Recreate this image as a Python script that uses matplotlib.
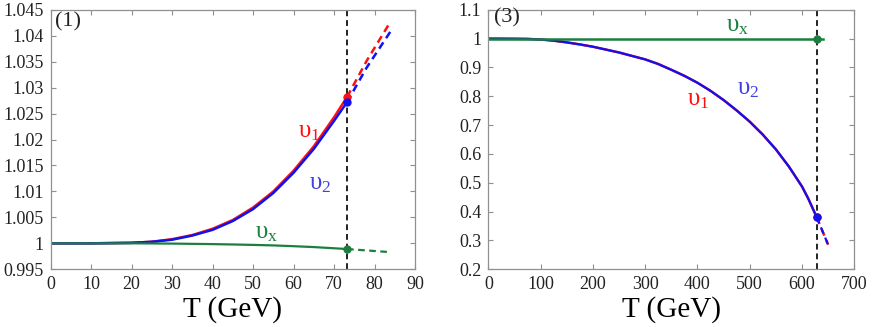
import matplotlib
matplotlib.use("Agg")
import matplotlib.pyplot as plt
import numpy as np

plt.rcParams['font.family'] = ['Liberation Serif', 'DejaVu Serif']
plt.rcParams['mathtext.fontset'] = 'custom'
plt.rcParams['mathtext.rm'] = 'Liberation Serif'
plt.rcParams['mathtext.it'] = 'Liberation Serif'

# Panel (1)
T1 = [0, 10, 20, 25, 30, 35, 40, 45, 50, 55, 60, 65, 70, 73.2]
v1_1 = [1.0, 1.0, 1.0001, 1.0003, 1.0008, 1.0016, 1.0028, 1.0045, 1.0069, 1.0100, 1.0140, 1.0187, 1.0243, 1.0282]
v2_1 = [1.0, 1.0, 1.0001, 1.0003, 1.0007, 1.0015, 1.0026, 1.0043, 1.0066, 1.0097, 1.0136, 1.0182, 1.0236, 1.0272]
vx_1 = [1.0, 1.0, 1.0, 0.99998, 0.99995, 0.9999, 0.99985, 0.99978, 0.9997, 0.9996, 0.99945, 0.99928, 0.99905, 0.9989]
T1d = [73.2, 78, 84]
v1_1d = [1.0282, 1.0351, 1.0428]
T1d2 = [73.2, 78, 84.5]
v2_1d = [1.0272, 1.0338, 1.0415]
T1dx = [73.2, 84]
vx_1d = [0.9989, 0.9983]
Tc1 = 73.2

# Panel (3)
T3 = [0, 50, 75, 100, 125, 150, 175, 200, 225, 250, 275, 300, 325, 350, 375, 400,
      425, 450, 475, 500, 525, 550, 575, 600, 612, 628]
v_3 = [1.0, 0.9995, 0.999, 0.997, 0.993, 0.987, 0.980, 0.972, 0.962, 0.952, 0.940,
       0.928, 0.912, 0.892, 0.871, 0.847, 0.819, 0.787, 0.751, 0.712, 0.667, 0.616,
       0.556, 0.487, 0.445, 0.381]
T3d = [628, 650]
v_3d = [0.381, 0.285]
T3x = [0, 640]
vx_3 = [1.0, 1.0]
Tc3 = 628

red = '#ff1010'
blue = '#1010f0'
green = '#1b7f3e'

fig = plt.figure(figsize=(8.72, 3.27), dpi=100)
ax1 = fig.add_axes([0.058, 0.1765, 0.418, 0.7935])
ax3 = fig.add_axes([0.560, 0.1765, 0.4197, 0.7935])

def style(ax):
    for s in ax.spines.values():
        s.set_color('#909090')
        s.set_linewidth(0.9)
    ax.tick_params(direction='in', top=True, right=True, color='#909090',
                   labelsize=13, length=3.5, pad=5, labelcolor='#222222')
    ax.set_xlabel('T (GeV)', fontsize=21, labelpad=2)

# Left
ax1.plot(T1, v1_1, color=red, lw=1.8)
ax1.plot(T1, v2_1, color=blue, lw=1.8)
ax1.plot(T1, vx_1, color=green, lw=1.6)
ax1.plot(T1d, v1_1d, color=red, lw=1.8, ls=(0, (3, 2)))
ax1.plot(T1d2, v2_1d, color=blue, lw=1.8, ls=(0, (3, 2)))
ax1.plot(T1dx, vx_1d, color=green, lw=1.6, ls=(0, (3, 2)))
ax1.axvline(Tc1, color='#222222', lw=1.4, ls=(0, (3, 2)), zorder=1)
ax1.plot([Tc1], [v1_1[-1]], 'o', color=red, ms=5, zorder=4)
ax1.plot([Tc1], [v2_1[-1]], 'o', color=blue, ms=5, zorder=4)
ax1.plot([Tc1], [vx_1[-1]], 'o', color=green, ms=5, zorder=4)
ax1.set_xlim(0, 90)
ax1.set_ylim(0.995, 1.045)
ax1.set_xticks(np.arange(0, 91, 10))
ax1.set_yticks([0.995, 1.0, 1.005, 1.01, 1.015, 1.02, 1.025, 1.03, 1.035, 1.04, 1.045])
ax1.set_yticklabels(['0.995', '1', '1.005', '1.01', '1.015', '1.02', '1.025', '1.03', '1.035', '1.04', '1.045'])
ax1.text(1.0, 1.0418, '(1)', fontsize=16, color='#222222')
ax1.text(61.2, 1.0205, r'$\mathregular{υ_1}$', color=red, fontsize=18)
ax1.text(63.8, 1.0103, r'$\mathregular{υ_2}$', color='#4040e0', fontsize=18)
ax1.text(50.5, 1.0010, r'$\mathregular{υ_x}$', color=green, fontsize=18)
style(ax1)

# Right
ax3.plot(T3, v_3, color=red, lw=1.8)
ax3.plot(T3, v_3, color=blue, lw=1.6)
ax3.plot(T3d, v_3d, color=red, lw=1.8, ls=(0, (3, 2)))
ax3.plot(T3d, v_3d, color=blue, lw=1.6, ls=(0, (3, 2)))
ax3.plot(T3x, vx_3, color=green, lw=1.8)
ax3.axvline(Tc3, color='#222222', lw=1.4, ls=(0, (3, 2)), zorder=1)
ax3.plot([Tc3], [v_3[-1]], 'o', color=red, ms=5, zorder=4)
ax3.plot([Tc3], [v_3[-1]], 'o', color=blue, ms=5, zorder=4)
ax3.plot([Tc3], [vx_3[-1]], 'o', color=green, ms=5, zorder=4)
ax3.set_xlim(0, 700)
ax3.set_ylim(0.2, 1.1)
ax3.set_xticks(np.arange(0, 701, 100))
ax3.set_yticks([0.2, 0.3, 0.4, 0.5, 0.6, 0.7, 0.8, 0.9, 1.0, 1.1])
ax3.set_yticklabels(['0.2', '0.3', '0.4', '0.5', '0.6', '0.7', '0.8', '0.9', '1', '1.1'])
ax3.text(10, 1.055, '(3)', fontsize=16, color='#222222')
ax3.text(455, 1.025, r'$\mathregular{υ_x}$', color=green, fontsize=18)
ax3.text(475, 0.805, r'$\mathregular{υ_2}$', color='#4040e0', fontsize=18)
ax3.text(380, 0.77, r'$\mathregular{υ_1}$', color=red, fontsize=18)
style(ax3)

fig.savefig('out.png', dpi=100)
